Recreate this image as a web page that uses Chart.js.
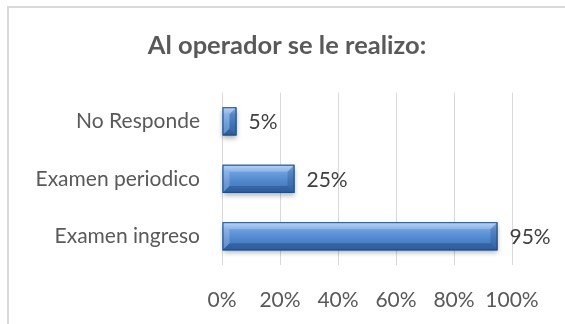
<!DOCTYPE html>
<html>
<head>
<meta charset="utf-8">
<script src="https://cdn.jsdelivr.net/npm/chart.js@4"></script>
<style>
  html, body { margin: 0; padding: 0; background: #fff; }
  #wrap { position: relative; width: 565px; height: 324px; }
  #frame {
    position: absolute; left: 7px; top: 6px; right: -10px; bottom: -10px;
    border: 2px solid #d9d9d9; pointer-events: none;
  }
</style>
</head>
<body>
<div id="wrap">
  <canvas id="chart" width="565" height="324"></canvas>
  <div id="frame"></div>
</div>
<script>
// categorias y valores (%)
const categorias = ['No Responde', 'Examen periodico', 'Examen ingreso'];
const valores = [5, 25, 95];
const ticksX = [0, 20, 40, 60, 80, 100];

const FONT = 'Lato, "Open Sans", sans-serif';

// barras con relieve (degradado + biseles) sobre los rectangulos de Chart.js
const barrasBisel = {
  id: 'barrasBisel',
  afterDatasetsDraw(chart) {
    const ctx = chart.ctx;
    const meta = chart.getDatasetMeta(0);
    meta.data.forEach(el => {
      const left = el.base, right = el.x;
      const top = el.y - el.height / 2, bottom = el.y + el.height / 2;
      const w = right - left, h = bottom - top;
      const b = Math.min(7, w / 2, h / 3);

      ctx.save();
      // sombra
      ctx.shadowColor = 'rgba(0,0,0,0.3)';
      ctx.shadowBlur = 5;
      ctx.shadowOffsetY = 3;
      ctx.fillStyle = '#4a80c6';
      ctx.fillRect(left, top, w, h);
      ctx.restore();

      ctx.save();
      const g = ctx.createLinearGradient(0, top, 0, bottom);
      g.addColorStop(0, '#a9cbf3');
      g.addColorStop(0.25, '#6d9fe0');
      g.addColorStop(0.6, '#4f86cc');
      g.addColorStop(1, '#3c70b4');
      ctx.fillStyle = g;
      ctx.fillRect(left, top, w, h);

      // bisel izquierdo (claro)
      ctx.fillStyle = 'rgba(255,255,255,0.2)';
      ctx.beginPath();
      ctx.moveTo(left, top); ctx.lineTo(left + b, top + b);
      ctx.lineTo(left + b, bottom - b); ctx.lineTo(left, bottom);
      ctx.closePath(); ctx.fill();
      // bisel superior (claro)
      ctx.fillStyle = 'rgba(255,255,255,0.2)';
      ctx.beginPath();
      ctx.moveTo(left, top); ctx.lineTo(right, top);
      ctx.lineTo(right - b, top + b); ctx.lineTo(left + b, top + b);
      ctx.closePath(); ctx.fill();
      // bisel derecho (oscuro)
      ctx.fillStyle = 'rgba(10,40,90,0.2)';
      ctx.beginPath();
      ctx.moveTo(right, top); ctx.lineTo(right - b, top + b);
      ctx.lineTo(right - b, bottom - b); ctx.lineTo(right, bottom);
      ctx.closePath(); ctx.fill();
      // bisel inferior (oscuro)
      ctx.fillStyle = 'rgba(10,40,90,0.28)';
      ctx.beginPath();
      ctx.moveTo(left, bottom); ctx.lineTo(right, bottom);
      ctx.lineTo(right - b, bottom - b); ctx.lineTo(left + b, bottom - b);
      ctx.closePath(); ctx.fill();

      // contorno
      ctx.strokeStyle = '#1f4c88';
      ctx.lineWidth = 1;
      ctx.strokeRect(left + 0.5, top + 0.5, w - 1, h - 1);
      ctx.restore();
    });
  }
};

// etiquetas de valor a la derecha de cada barra
const etiquetasValor = {
  id: 'etiquetasValor',
  afterDatasetsDraw(chart) {
    const ctx = chart.ctx;
    const meta = chart.getDatasetMeta(0);
    ctx.save();
    ctx.font = '21px ' + FONT;
    ctx.fillStyle = '#404040';
    ctx.textAlign = 'left';
    ctx.textBaseline = 'middle';
    meta.data.forEach((el, i) => {
      ctx.fillText(valores[i] + '%', el.x + 12, el.y + 1);
    });
    ctx.restore();
  }
};

new Chart(document.getElementById('chart'), {
  type: 'bar',
  data: {
    labels: categorias,
    datasets: [{
      data: valores,
      backgroundColor: 'rgba(0,0,0,0)',
      borderWidth: 0,
      barPercentage: 0.49,
      categoryPercentage: 1
    }]
  },
  options: {
    indexAxis: 'y',
    responsive: false,
    animation: false,
    // el titulo queda centrado en x~287; el margen derecho lo da el eje y2
    layout: { padding: { left: 9, right: 0, top: 0, bottom: 0 } },
    plugins: {
      legend: { display: false },
      tooltip: { enabled: false },
      title: {
        display: true,
        text: 'Al operador se le realizo:',
        color: '#595959',
        font: { family: FONT, size: 25.5, weight: 'bold' },
        padding: { top: 30, bottom: 32 }
      }
    },
    scales: {
      x: {
        min: 0,
        max: 100,
        afterBuildTicks: scale => { scale.ticks = ticksX.map(v => ({ value: v })); },
        afterFit: scale => { scale.height = 59; },
        ticks: {
          callback: v => v + '%',
          color: '#595959',
          font: { family: FONT, size: 21 },
          padding: 23,
          maxRotation: 0
        },
        grid: { color: '#d9d9d9', drawTicks: false },
        border: { display: false }
      },
      y: {
        afterFit: scale => { scale.width = 213; },
        ticks: {
          color: '#595959',
          font: { family: FONT, size: 21 },
          padding: 14
        },
        grid: { display: false },
        border: { display: false }
      },
      // eje vacio a la derecha: espacio para las etiquetas de valor
      y2: {
        type: 'category',
        position: 'right',
        afterFit: scale => { scale.width = 53; },
        ticks: { display: false },
        grid: { display: false },
        border: { display: false }
      }
    }
  },
  plugins: [barrasBisel, etiquetasValor]
});
</script>
</body>
</html>
